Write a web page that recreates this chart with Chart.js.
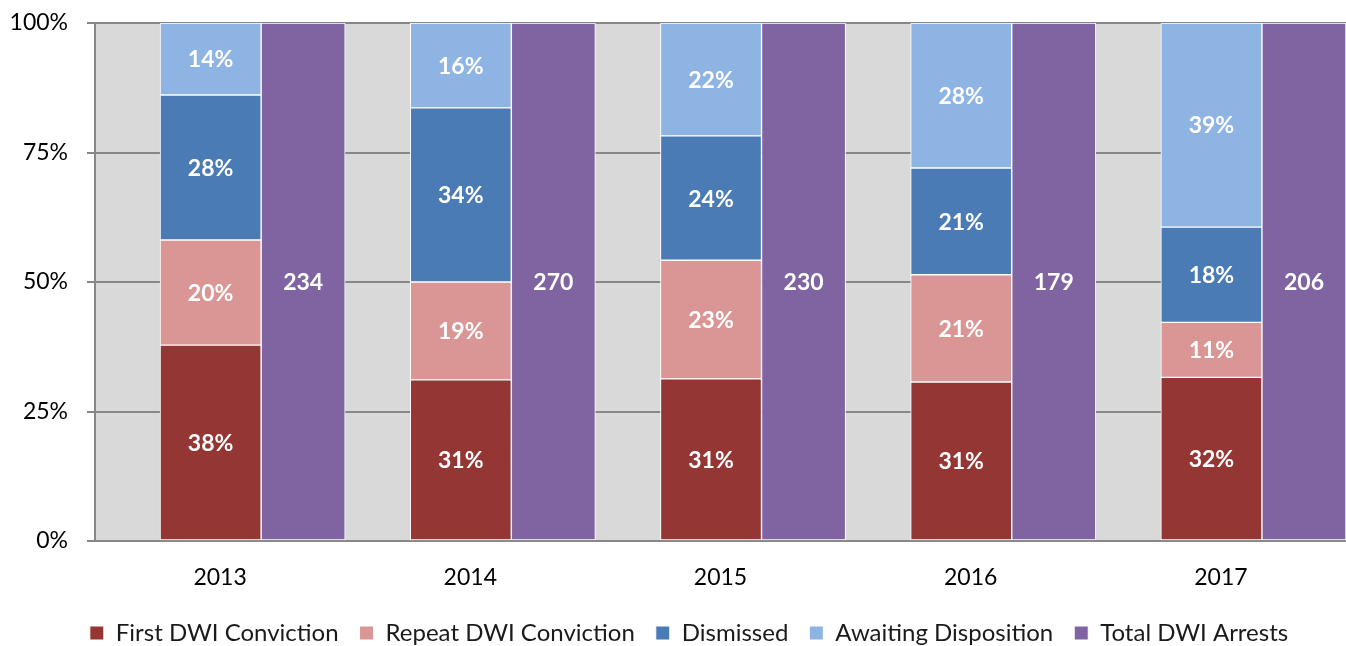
<!DOCTYPE html>
<html>
<head>
<meta charset="utf-8">
<script src="https://cdn.jsdelivr.net/npm/chart.js@4/dist/chart.umd.min.js"></script>
<style>
  html, body { margin: 0; padding: 0; background: #fff; }
  #wrap { width: 1346px; height: 646px; }
</style>
</head>
<body>
<div id="wrap"><canvas id="chart"></canvas></div>
<script>
const years = ['2013', '2014', '2015', '2016', '2017'];
const firstConviction = [37.8, 31.1, 31.3, 30.7, 31.6];
const repeatConviction = [20.3, 18.9, 22.9, 20.7, 10.6];
const dismissed = [28.0, 33.6, 24.0, 20.6, 18.4];
const awaiting = [13.9, 16.4, 21.8, 28.0, 39.4];
const totalArrests = [234, 270, 230, 179, 206];
const yTicks = [0, 25, 50, 75, 100];

// bar placement inside each year (fraction of a category)
const shiftA = -0.038, shiftB = 0.332;

function pts(vals, shift) {
  return vals.map((v, i) => ({ x: i + shift, y: v }));
}

function bar(label, vals, color, stack, shift, thick) {
  return {
    label: label,
    data: pts(vals, shift),
    backgroundColor: color,
    borderColor: '#ffffff',
    borderWidth: 1,
    borderSkipped: false,
    stack: stack,
    grouped: false,
    barThickness: thick
  };
}

const plotBg = {
  id: 'plotBg',
  beforeDraw(chart) {
    const a = chart.chartArea, c = chart.ctx;
    c.save();
    c.fillStyle = '#d9d9d9';
    c.fillRect(a.left, a.top, a.right - a.left, a.bottom - a.top);
    c.restore();
  }
};

// keep the legend strip short and nudge it right like the original
const legendTweak = {
  id: 'legendTweak',
  beforeInit(chart) {
    const fit = chart.legend.fit;
    chart.legend.fit = function () {
      fit.call(this);
      this.height = 46;
    };
  },
  afterLayout(chart) {
    chart.legend.left += 16;
    chart.legend.right += 16;
  }
};

const barLabels = {
  id: 'barLabels',
  afterDatasetsDraw(chart) {
    const c = chart.ctx;
    c.save();
    c.fillStyle = '#ffffff';
    c.font = 'bold 23px Lato';
    c.textAlign = 'center';
    c.textBaseline = 'middle';
    chart.data.datasets.forEach((ds, di) => {
      const meta = chart.getDatasetMeta(di);
      meta.data.forEach((el, i) => {
        let txt;
        if (di == 4) txt = String(totalArrests[i]);
        else txt = Math.round(ds.data[i].y) + '%';
        c.fillText(txt, el.x, (el.y + el.base) / 2 + 1);
      });
    });
    c.restore();
  }
};

new Chart(document.getElementById('chart'), {
  type: 'bar',
  data: {
    datasets: [
      bar('First DWI Conviction', firstConviction, '#943634', 'A', shiftA, 101),
      bar('Repeat DWI Conviction', repeatConviction, '#d99694', 'A', shiftA, 101),
      bar('Dismissed', dismissed, '#4a7bb5', 'A', shiftA, 101),
      bar('Awaiting Disposition', awaiting, '#8eb4e3', 'A', shiftA, 101),
      bar('Total DWI Arrests', totalArrests.map(() => 100), '#8064a2', 'B', shiftB, 84)
    ]
  },
  options: {
    responsive: true,
    maintainAspectRatio: false,
    animation: false,
    layout: { padding: 0 },
    plugins: {
      tooltip: { enabled: false },
      legend: {
        position: 'bottom',
        labels: {
          font: { family: 'Lato', size: 24 },
          color: '#1a1a1a',
          boxWidth: 14,
          boxHeight: 14,
          padding: 21
        }
      }
    },
    scales: {
      x: {
        type: 'linear',
        min: -0.5,
        max: 4.5,
        offset: false,
        afterBuildTicks: (s) => { s.ticks = years.map((_, i) => ({ value: i })); },
        afterFit: (s) => { s.height = 59; },
        ticks: {
          autoSkip: false,
          maxRotation: 0,
          padding: 15,
          color: '#000',
          font: { family: 'Lato', size: 23 },
          callback: (v) => years[v]
        },
        grid: { display: false },
        border: { display: false }
      },
      y: {
        stacked: true,
        min: 0,
        max: 100,
        afterBuildTicks: (s) => { s.ticks = yTicks.map(v => ({ value: v })); },
        afterFit: (s) => { s.width = 95; s.paddingTop = 23; s.paddingBottom = 0; },
        ticks: {
          padding: 19,
          color: '#000',
          font: { family: 'Lato', size: 23 },
          callback: (v) => v + '%'
        },
        grid: { color: '#878787', lineWidth: 2, tickLength: 8 },
        border: { display: true, color: '#878787', width: 2 }
      }
    }
  },
  plugins: [plotBg, legendTweak, barLabels]
});
</script>
</body>
</html>
